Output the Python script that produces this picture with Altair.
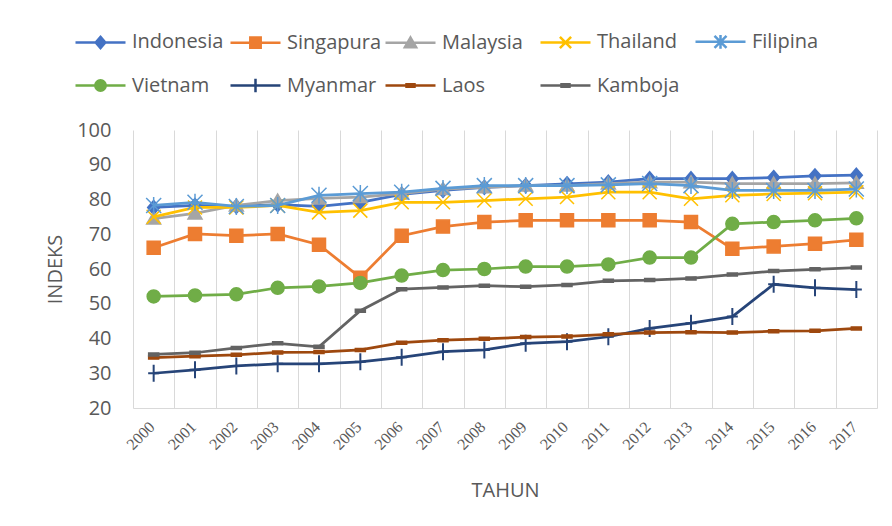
import altair as alt
import pandas as pd

years = [str(y) for y in range(2000, 2018)]
countries = ["Indonesia", "Singapura", "Malaysia", "Thailand", "Filipina",
             "Vietnam", "Myanmar", "Laos", "Kamboja"]
colors = ["#4472C4", "#ED7D31", "#A5A5A5", "#FFC000", "#5B9BD5",
          "#70AD47", "#264478", "#9E480E", "#636363"]

indonesia = [77.7, 78.3, 78.0, 78.5, 78.0, 79.2, 81.5, 82.6, 83.5, 84.0, 84.5, 85.0, 86.0, 86.0, 86.0, 86.3, 86.8, 87.0]
singapura = [66.1, 70.1, 69.6, 70.1, 67.0, 57.5, 69.6, 72.2, 73.5, 74.0, 74.0, 74.0, 74.0, 73.5, 65.8, 66.5, 67.3, 68.4]
malaysia = [74.5, 76.0, 78.3, 79.7, 80.3, 80.7, 81.7, 83.0, 83.5, 84.0, 84.0, 84.6, 85.0, 85.0, 84.6, 84.6, 84.6, 84.8]
thailand = [75.0, 77.7, 77.7, 78.3, 76.3, 76.8, 79.2, 79.2, 79.7, 80.2, 80.7, 82.1, 82.1, 80.2, 81.2, 81.6, 81.8, 82.1]
filipina = [78.3, 79.2, 78.0, 78.3, 81.2, 81.7, 82.1, 83.2, 84.0, 84.0, 84.0, 84.2, 84.6, 84.0, 82.6, 82.6, 82.6, 83.0]
vietnam = [52.1, 52.4, 52.7, 54.6, 55.0, 56.0, 58.1, 59.7, 60.0, 60.7, 60.7, 61.3, 63.3, 63.3, 73.0, 73.5, 74.0, 74.6]
myanmar = [30.0, 31.0, 32.1, 32.7, 32.7, 33.3, 34.6, 36.2, 36.7, 38.6, 39.1, 40.5, 42.9, 44.4, 46.3, 55.6, 54.6, 54.1]
laos = [34.5, 34.9, 35.3, 36.0, 36.1, 36.7, 38.8, 39.5, 39.9, 40.4, 40.6, 41.2, 41.7, 41.8, 41.7, 42.1, 42.2, 42.9]
kamboja = [35.4, 35.9, 37.3, 38.6, 37.6, 48.0, 54.2, 54.7, 55.2, 54.9, 55.4, 56.6, 56.8, 57.3, 58.4, 59.4, 59.9, 60.4]

series = [indonesia, singapura, malaysia, thailand, filipina, vietnam, myanmar, laos, kamboja]

rows = []
for name, vals in zip(countries, series):
    for yr, v in zip(years, vals):
        rows.append({"country": name, "year": yr, "value": v})
df = pd.DataFrame(rows)

# ---- marker geometry (pixel units) ----
def f(v):
    s = f"{v:.4f}".rstrip("0").rstrip(".")
    return "0" if s in ("-0", "") else s

def poly(pts):
    return "M" + "L".join(f"{f(x)},{f(y)}" for x, y in pts) + "Z"

def segs(ss):
    return "".join(f"M{f(a[0])},{f(a[1])}L{f(b[0])},{f(b[1])}" for a, b in ss)

def circ(r):
    return f"M{f(r)},0A{f(r)},{f(r)},0,1,1,{f(-r)},0A{f(r)},{f(r)},0,1,1,{f(r)},0Z"

def geom(kind, k):
    if kind == "diamond":
        return poly([(0, -7 * k), (6 * k, 0), (0, 7 * k), (-6 * k, 0)])
    if kind == "square":
        a = 6.5 * k
        return poly([(-a, -a), (a, -a), (a, a), (-a, a)])
    if kind == "triangle":
        return poly([(0, -6.5 * k), (7 * k, 5.5 * k), (-7 * k, 5.5 * k)])
    if kind == "x":
        a = 7 * k
        return segs([((-a, -a), (a, a)), ((-a, a), (a, -a))])
    if kind == "star":
        a = 7.5 * k
        return segs([((-a, -a), (a, a)), ((-a, a), (a, -a)), ((0, -8.5 * k), (0, 8.5 * k))])
    if kind == "circle":
        return circ(6.5 * k)
    if kind == "plus":
        return segs([((-5.5 * k, 0), (5.5 * k, 0)), ((0, -8.5 * k), (0, 8.5 * k))])
    if kind == "dash":
        return poly([(-5 * k, -1.5 * k), (5 * k, -1.5 * k), (5 * k, 1.5 * k), (-5 * k, 1.5 * k)])

kinds = ["diamond", "square", "triangle", "x", "star", "circle", "plus", "dash", "dash"]
filled_kinds = {"diamond", "square", "triangle", "circle", "dash"}

def build(kind, k, unit, nested):
    factors = [1.0, 0.66, 0.33] if nested else [1.0]
    return "".join(geom(kind, k * fac / unit) for fac in factors)

CHART_UNIT = 6.0      # size 144 -> 6 px per unit
LEG_UNIT = 25.0       # size 2500 -> 25 px per unit

point_paths = [build(kd, 1.0, CHART_UNIT, False) for kd in kinds]
legend_paths = ["M-1,0L1,0" + build(kd, 0.8, LEG_UNIT, kd in filled_kinds) for kd in kinds]

FONT = "Open Sans"
TXT = "#595959"

x_enc = alt.X("year:O",
              scale=alt.Scale(type="band", paddingInner=0, paddingOuter=0),
              bandPosition=0.5,
              axis=alt.Axis(title="TAHUN", tickBand="extent", grid=True, gridColor="#D9D9D9",
                            gridWidth=1, ticks=False, domainColor="#D9D9D9",
                            labelAngle=-45, labelAlign="right", labelBaseline="middle",
                            labelFont="Liberation Serif", labelFontSize=16, labelColor=TXT,
                            labelPadding=16, labelOffset=-2, titleFont=FONT, titleFontSize=20,
                            titleFontWeight="normal", titleColor=TXT, titlePadding=28))
y_enc = alt.Y("value:Q",
              scale=alt.Scale(domain=[20, 100], nice=False, zero=False),
              axis=alt.Axis(title="INDEKS", values=list(range(20, 101, 10)), grid=False,
                            domain=False, ticks=False, labelFont=FONT, labelFontSize=20,
                            labelColor=TXT, labelPadding=22, titleFont=FONT, titleFontSize=20,
                            titleFontWeight="normal", titleColor=TXT, titlePadding=11))

layers = []
for i, name in enumerate(countries):
    base = alt.Chart(df).transform_filter(alt.datum.country == name)
    line = base.mark_line(color=colors[i], strokeWidth=2.75).encode(x=x_enc, y=y_enc)
    pt = base.mark_point(shape=point_paths[i], size=144, filled=kinds[i] in filled_kinds,
                         fill=colors[i] if kinds[i] in filled_kinds else "transparent",
                         stroke=colors[i], strokeWidth=2 if kinds[i] == "plus" else 1.5,
                         opacity=1).encode(x=x_enc, y=y_enc)
    layers += [line, pt]

dummy = alt.Chart(df).transform_filter("false").mark_point(filled=False, opacity=1, strokeWidth=2.5).encode(
    color=alt.Color("country:N", scale=alt.Scale(domain=countries, range=colors),
                    legend=alt.Legend(title=None)),
    shape=alt.Shape("country:N", scale=alt.Scale(domain=countries, range=legend_paths),
                    legend=alt.Legend(title=None)),
)
layers.append(dummy)

chart = alt.layer(*layers).properties(
    width=744, height=278,
    autosize=alt.AutoSizeParams(type="none"),
    padding={"left": 125, "top": 122, "right": 7, "bottom": 110},
).configure_view(stroke=None).configure_legend(
    orient="none", legendX=-59, legendY=-115, columns=5, direction="horizontal",
    gridAlign="all", symbolSize=2500, symbolStrokeWidth=2.5, labelFont=FONT,
    labelFontSize=20, labelColor=TXT, labelOffset=5, columnPadding=-2, rowPadding=5,
)

chart.save("out.html", embed_options={"renderer": "svg", "actions": False})
